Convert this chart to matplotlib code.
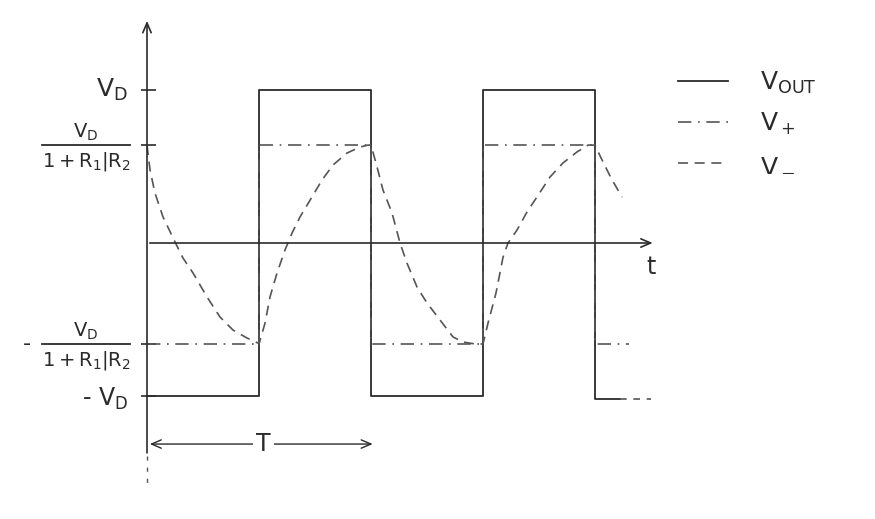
import matplotlib
matplotlib.use("Agg")
import matplotlib.pyplot as plt

plt.rcParams["mathtext.default"] = "regular"

# time in units of half a period, voltage in units of VD
beta_hi = 0.64     # VD / (1 + R1/R2) seen on the upper side
beta_lo = -0.66    # and on the lower side

vout_t = [0, 1, 1, 2, 2, 3, 3, 4, 4, 4.22]
vout_v = [-1, -1, 1, 1, -1, -1, 1, 1, -1.02, -1.02]
vout_tail_t = [4.22, 4.5]
vout_tail_v = [-1.02, -1.02]

vplus_t = [0, 1, 1, 2, 2, 3, 3, 4, 4, 4.3]
vplus_v = [beta_lo, beta_lo, beta_hi, beta_hi, beta_lo, beta_lo,
           beta_hi, beta_hi, beta_lo, beta_lo]

vminus_t = [0.0, 0.027, 0.071, 0.143, 0.25, 0.321, 0.411, 0.536, 0.652, 0.768, 0.893, 0.991, 1.0,
            1.054, 1.098, 1.161, 1.232, 1.295, 1.366, 1.473, 1.563, 1.661, 1.786, 1.902, 1.973, 2.0,
            2.054, 2.107, 2.188, 2.259, 2.321, 2.411, 2.5, 2.616, 2.732, 2.821, 2.929, 3.0,
            3.045, 3.116, 3.179, 3.223, 3.304, 3.393, 3.482, 3.598, 3.714, 3.839, 3.938, 4.0,
            4.054, 4.143, 4.241]
vminus_v = [0.64, 0.477, 0.327, 0.170, 0.007, -0.098, -0.196, -0.353, -0.484, -0.569, -0.621, -0.654, -0.66,
            -0.523, -0.353, -0.196, -0.046, 0.065, 0.170, 0.301, 0.412, 0.510, 0.588, 0.627, 0.64, 0.64,
            0.497, 0.346, 0.196, 0.0, -0.131, -0.288, -0.392, -0.503, -0.614, -0.647, -0.66, -0.66,
            -0.523, -0.327, -0.092, 0.0, 0.085, 0.203, 0.301, 0.431, 0.523, 0.595, 0.64, 0.64,
            0.556, 0.425, 0.30]

tick_levels = [1, beta_hi, beta_lo, -1]
legend_labels = [r"$V_{OUT}$", r"$V_+$", r"$V_-$"]
period_label = "T"

INK = "#2b2b2b"
GREY = "#555555"

fig = plt.figure(figsize=(8.75, 5.19), dpi=100, facecolor="white")
ax = fig.add_axes([0, 0, 1, 1])
ax.set_xlim(-147 / 112, 728 / 112)
ax.set_ylim(-276 / 153, 243 / 153)
ax.axis("off")

# axes of the sketch
ax.annotate("", xy=(4.54, 0), xytext=(0, 0),
            arrowprops=dict(arrowstyle="->,head_length=0.7,head_width=0.3", color=INK, lw=1.2))
ax.annotate("", xy=(0, 1.47), xytext=(0, -1.39),
            arrowprops=dict(arrowstyle="->,head_length=0.7,head_width=0.3", color=INK, lw=1.2))
ax.plot([0, 0], [-1.39, -1.58], color=GREY, lw=1.0, ls=(0, (3, 5)))
ax.text(4.5, -0.16, "t", fontsize=17, color=INK, ha="center", va="center")
ax.hlines(tick_levels, -0.05, 0.08, color=INK, lw=1.2)

# signals
l_out, = ax.plot(vout_t, vout_v, color=INK, lw=1.3, label=legend_labels[0])
ax.plot(vout_tail_t, vout_tail_v, color=GREY, lw=1.2, ls=(0, (4, 4)))
l_plus, = ax.plot(vplus_t, vplus_v, color=GREY, lw=1.2, ls=(0, (8, 4, 1, 4)),
                  label=legend_labels[1])
l_minus, = ax.plot(vminus_t, vminus_v, color=GREY, lw=1.2, ls=(0, (6, 4)),
                   label=legend_labels[2])

# level labels
ax.text(-0.17, 1.0, "$V_D$", fontsize=18, color=INK, ha="right", va="center")
ax.text(-0.17, -1.02, "- $V_D$", fontsize=17, color=INK, ha="right", va="center")
for lvl, sign in [(beta_hi, ""), (beta_lo, "-")]:
    ax.text(-0.545, lvl + 0.08, "$V_D$", fontsize=14, color=INK, ha="center", va="center")
    ax.plot([-0.94, -0.15], [lvl, lvl], color=INK, lw=1.3)
    ax.text(-0.545, lvl - 0.11, "$1+R_1 | R_2$", fontsize=14, color=INK,
            ha="center", va="center")
    if sign:
        ax.text(-1.07, lvl, "-", fontsize=16, color=INK, ha="center", va="center")

# period arrow
ax.annotate("", xy=(2.04, -1.314), xytext=(0, -1.314),
            arrowprops=dict(arrowstyle="<->,head_length=0.7,head_width=0.3", color=INK, lw=1.0))
ax.text(1.04, -1.314, period_label, fontsize=17, color=INK, ha="center", va="center",
        bbox=dict(facecolor="white", edgecolor="none", pad=2))

leg = ax.legend(handles=[l_out, l_plus, l_minus], loc="upper left",
                bbox_to_anchor=(678 / 875, 1 - 70 / 519), frameon=False,
                fontsize=18, handlelength=2.0, handletextpad=1.3, labelspacing=0.6,
                borderpad=0, borderaxespad=0)
for txt in leg.get_texts():
    txt.set_color(INK)

fig.savefig("out.png", dpi=100, facecolor="white")
